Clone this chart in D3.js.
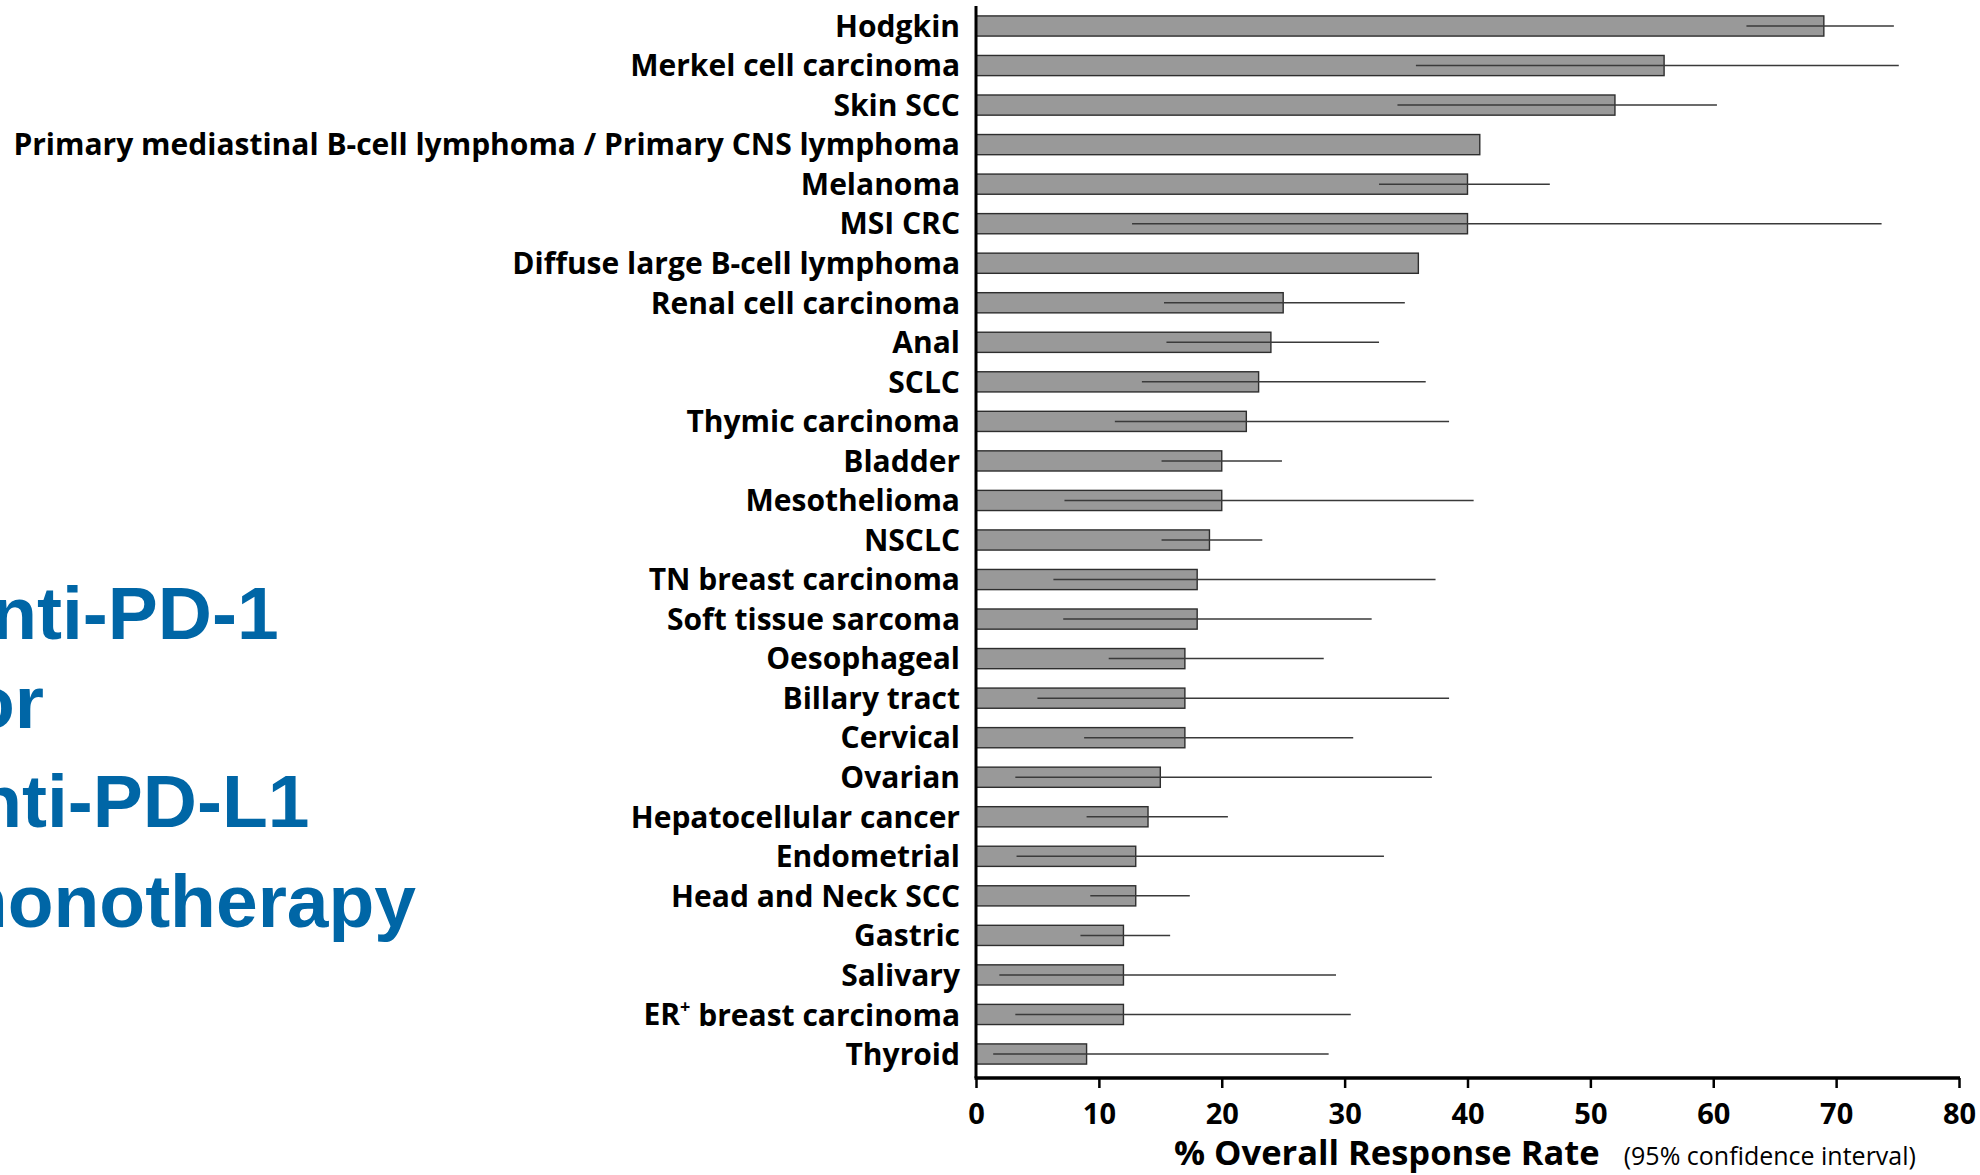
<!DOCTYPE html>
<html>
<head>
<meta charset="utf-8">
<script src="https://cdn.jsdelivr.net/npm/d3@7"></script>
<style>
  html, body { margin: 0; padding: 0; background: #ffffff; }
  svg { display: block; }
</style>
</head>
<body>
<svg id="chart" width="1980" height="1175"></svg>
<script>
// Tumour types, ordered by overall response rate
const categories = [
  "Hodgkin",
  "Merkel cell carcinoma",
  "Skin SCC",
  "Primary mediastinal B-cell lymphoma / Primary CNS lymphoma",
  "Melanoma",
  "MSI CRC",
  "Diffuse large B-cell lymphoma",
  "Renal cell carcinoma",
  "Anal",
  "SCLC",
  "Thymic carcinoma",
  "Bladder",
  "Mesothelioma",
  "NSCLC",
  "TN breast carcinoma",
  "Soft tissue sarcoma",
  "Oesophageal",
  "Billary tract",
  "Cervical",
  "Ovarian",
  "Hepatocellular cancer",
  "Endometrial",
  "Head and Neck SCC",
  "Gastric",
  "Salivary",
  "ER+ breast carcinoma",
  "Thyroid"
];

// % overall response rate
const responseRate = [69, 56, 52, 41, 40, 40, 36, 25, 24, 23, 22, 20, 20, 19, 18, 18, 17, 17, 17, 15, 14, 13, 13, 12, 12, 12, 9];

// 95% confidence interval bounds (null where not reported)
const ciLower = [62.7, 35.8, 34.3, null, 32.8, 12.7, null, 15.3, 15.5, 13.5, 11.3, 15.1, 7.2, 15.1, 6.3, 7.1, 10.8, 5.0, 8.8, 3.2, 9.0, 3.3, 9.3, 8.5, 1.9, 3.2, 1.4];
const ciUpper = [74.7, 75.1, 60.3, null, 46.7, 73.7, null, 34.9, 32.8, 36.6, 38.5, 24.9, 40.5, 23.3, 37.4, 32.2, 28.3, 38.5, 30.7, 37.1, 20.5, 33.2, 17.4, 15.8, 29.3, 30.5, 28.7];

const xTicks = [0, 10, 20, 30, 40, 50, 60, 70, 80];

const sideTitle = ["Anti-PD-1", "or", "Anti-PD-L1", "monotherapy"];

const rows = categories.map((c, i) => ({
  name: c, value: responseRate[i], lo: ciLower[i], hi: ciUpper[i]
}));

const svg = d3.select("#chart");

const x = d3.scaleLinear().domain([0, 80]).range([976, 1959]);
const y = d3.scalePoint().domain(categories).range([26, 1054]);
const step = y.step();
const barH = step * 0.51;
const axisY = 1078;
const axisTop = 6;

const labelFont = "'Open Sans', 'DejaVu Sans', sans-serif";

// Bars
svg.append("g")
  .selectAll("rect")
  .data(rows)
  .join("rect")
  .attr("x", x(0))
  .attr("y", d => y(d.name) - barH / 2)
  .attr("width", d => x(d.value) - x(0))
  .attr("height", barH)
  .attr("fill", "#999999")
  .attr("stroke", "#2e2e2e")
  .attr("stroke-width", 1.4);

// Confidence interval lines
svg.append("g")
  .selectAll("line")
  .data(rows.filter(d => d.lo != null))
  .join("line")
  .attr("x1", d => x(d.lo))
  .attr("x2", d => x(d.hi))
  .attr("y1", d => y(d.name))
  .attr("y2", d => y(d.name))
  .attr("stroke", "#3a3a3a")
  .attr("stroke-width", 1.5);

// Category labels
const labels = svg.append("g")
  .attr("font-family", labelFont)
  .attr("font-weight", 700)
  .attr("font-size", 30)
  .attr("fill", "#000")
  .attr("text-anchor", "end")
  .selectAll("text")
  .data(rows)
  .join("text")
  .attr("x", 960)
  .attr("y", d => y(d.name))
  .attr("dy", "0.36em");

labels.each(function(d) {
  const t = d3.select(this);
  if (d.name.startsWith("ER+")) {
    t.append("tspan").text("ER");
    t.append("tspan").text("+").attr("font-size", 18).attr("dy", "-0.7em");
    t.append("tspan").text(d.name.slice(3)).attr("dy", "0.43em");
  } else {
    t.text(d.name);
  }
});

// Vertical axis line
svg.append("line")
  .attr("x1", x(0)).attr("x2", x(0))
  .attr("y1", axisTop).attr("y2", axisY)
  .attr("stroke", "#000").attr("stroke-width", 3);

// Horizontal axis
const xAxis = d3.axisBottom(x).tickValues(xTicks).tickSize(10).tickSizeOuter(0).tickPadding(15);
const gx = svg.append("g")
  .attr("transform", `translate(0,${axisY})`)
  .call(xAxis);
gx.select(".domain").attr("stroke", "#000").attr("stroke-width", 3.5)
  .attr("d", `M${x(0) - 1.5},0H${x(80) + 1}`);
gx.selectAll(".tick line").attr("stroke", "#000").attr("stroke-width", 2.5);
gx.selectAll(".tick text")
  .attr("font-family", labelFont)
  .attr("font-weight", 700)
  .attr("font-size", 29)
  .attr("fill", "#000")
  .attr("dy", "0.72em");

// Axis title
const title = svg.append("text")
  .attr("x", 1174)
  .attr("y", 1165)
  .attr("font-family", labelFont)
  .attr("fill", "#000");
title.append("tspan").text("% Overall Response Rate").attr("font-weight", 700).attr("font-size", 34.5);
title.append("tspan").text("(95% confidence interval)").attr("font-weight", 400).attr("font-size", 25).attr("dx", 24);

// Treatment heading on the left, running off the page edge
const headingX = [-63, -31, -78, -59];
const baselines = [639, 728, 827, 927];
svg.append("g")
  .attr("font-family", "'Liberation Sans', Arial, sans-serif")
  .attr("font-weight", 700)
  .attr("font-size", 75)
  .attr("fill", "#0066a6")
  .selectAll("text")
  .data(sideTitle)
  .join("text")
  .attr("x", (d, i) => headingX[i])
  .attr("y", (d, i) => baselines[i])
  .text(d => d);
</script>
</body>
</html>
